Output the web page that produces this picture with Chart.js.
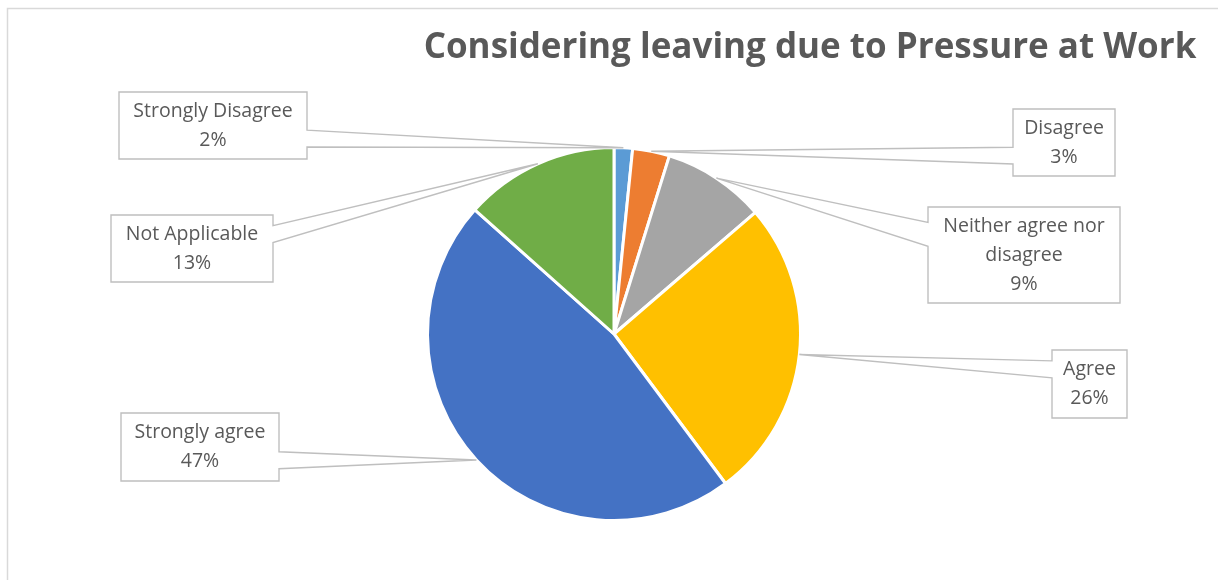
<!DOCTYPE html>
<html>
<head>
<meta charset="utf-8">
<script src="https://cdn.jsdelivr.net/npm/chart.js@4.4.1/dist/chart.umd.min.js"></script>
<style>
  html, body { margin: 0; padding: 0; background: #ffffff; }
  #wrap { width: 1218px; height: 580px; }
</style>
</head>
<body>
<div id="wrap"><canvas id="c" width="1218" height="580"></canvas></div>
<script>
// ---- data ----
const chartTitle = 'Considering leaving due to Pressure at Work';
const categories = ['Strongly Disagree', 'Disagree', 'Neither agree nor disagree', 'Agree', 'Strongly agree', 'Not Applicable'];
const shares = [1.6, 3.2, 8.9, 26.1, 46.8, 13.4];
const sliceColors = ['#5B9BD5', '#ED7D31', '#A5A5A5', '#FFC000', '#4472C4', '#70AD47'];

// ---- layout of the callout boxes (pixels) ----
const calloutBoxes = [
  { x: 119, y: 92, w: 188, h: 67 },
  { x: 1013, y: 109, w: 102, h: 67 },
  { x: 928, y: 207, w: 192, h: 96 },
  { x: 1052, y: 350, w: 75, h: 68 },
  { x: 121, y: 413, w: 158, h: 68 },
  { x: 111, y: 215, w: 162, h: 67 }
];

const textColor = '#595959';
const labelFont = '19.5px "Open Sans"';

function wrapWords(ctx, text, maxW) {
  const words = text.split(' ');
  const lines = [];
  let cur = '';
  for (const w of words) {
    const t = cur ? cur + ' ' + w : w;
    if (ctx.measureText(t).width > maxW && cur) { lines.push(cur); cur = w; }
    else cur = t;
  }
  if (cur) lines.push(cur);
  return lines;
}

const frameAndTitle = {
  id: 'frameAndTitle',
  beforeDraw(chart) {
    const ctx = chart.ctx;
    ctx.save();
    ctx.fillStyle = '#ffffff';
    ctx.fillRect(0, 0, chart.width, chart.height);
    ctx.strokeStyle = '#d9d9d9';
    ctx.lineWidth = 1.5;
    ctx.strokeRect(7.5, 8.5, 1400, 800);
    ctx.restore();
  },
  afterDraw(chart) {
    const ctx = chart.ctx;
    ctx.save();
    ctx.fillStyle = textColor;
    ctx.font = 'bold 35px "Open Sans"';
    ctx.textAlign = 'center';
    ctx.textBaseline = 'alphabetic';
    ctx.fillText(chartTitle, 810, 58);
    ctx.restore();
  }
};

const callouts = {
  id: 'callouts',
  afterDatasetsDraw(chart) {
    const ctx = chart.ctx;
    const meta = chart.getDatasetMeta(0);
    const total = shares.reduce((a, b) => a + b, 0);
    ctx.save();
    meta.data.forEach((arc, i) => {
      const p = arc.getProps(['x', 'y', 'startAngle', 'endAngle', 'outerRadius'], true);
      const mid = (p.startAngle + p.endAngle) / 2;
      const ax = p.x + Math.cos(mid) * p.outerRadius;
      const ay = p.y + Math.sin(mid) * p.outerRadius;
      const b = calloutBoxes[i];
      const left = b.x, right = b.x + b.w, top = b.y, bottom = b.y + b.h;
      const cy = top + b.h / 2;
      let y1, y2;
      if (ay < cy) { y1 = top + 0.16 * b.h; y2 = top + 0.41 * b.h; }
      else { y1 = top + 0.57 * b.h; y2 = top + 0.82 * b.h; }
      ctx.fillStyle = '#ffffff';
      ctx.fillRect(left, top, b.w, b.h);
      ctx.beginPath();
      if (b.x + b.w / 2 < ax) {
        ctx.moveTo(left, top);
        ctx.lineTo(right, top);
        ctx.lineTo(right, y1);
        ctx.lineTo(ax, ay);
        ctx.lineTo(right, y2);
        ctx.lineTo(right, bottom);
        ctx.lineTo(left, bottom);
        ctx.closePath();
      } else {
        ctx.moveTo(right, top);
        ctx.lineTo(left, top);
        ctx.lineTo(left, y1);
        ctx.lineTo(ax, ay);
        ctx.lineTo(left, y2);
        ctx.lineTo(left, bottom);
        ctx.lineTo(right, bottom);
        ctx.closePath();
      }
      ctx.strokeStyle = '#bfbfbf';
      ctx.lineWidth = 1.4;
      ctx.lineJoin = 'miter';
      ctx.stroke();

      ctx.font = labelFont;
      ctx.fillStyle = textColor;
      ctx.textAlign = 'center';
      ctx.textBaseline = 'middle';
      const lines = wrapWords(ctx, categories[i], b.w - 8);
      lines.push(Math.round(shares[i] / total * 100) + '%');
      const lh = 29;
      const startY = cy - (lines.length - 1) * lh / 2;
      lines.forEach((ln, k) => ctx.fillText(ln, left + b.w / 2, startY + k * lh));
    });
    ctx.restore();
  }
};

new Chart(document.getElementById('c'), {
  type: 'pie',
  data: {
    labels: categories,
    datasets: [{
      data: shares,
      backgroundColor: sliceColors,
      borderColor: '#ffffff',
      borderWidth: 3
    }]
  },
  options: {
    responsive: false,
    animation: false,
    layout: { padding: { top: 146, bottom: 58, left: 426, right: 416 } },
    plugins: {
      legend: { display: false },
      title: { display: false },
      tooltip: { enabled: false }
    }
  },
  plugins: [frameAndTitle, callouts]
});
</script>
</body>
</html>
